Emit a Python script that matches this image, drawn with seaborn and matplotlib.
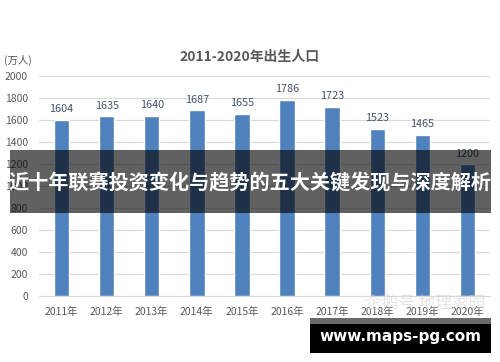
import matplotlib
matplotlib.use("Agg")
import matplotlib.pyplot as plt
import seaborn as sns
import pandas as pd
from matplotlib.patches import Rectangle

years = ["2011年", "2012年", "2013年", "2014年", "2015年", "2016年", "2017年", "2018年", "2019年", "2020年"]
births = [1604, 1635, 1640, 1687, 1655, 1786, 1723, 1523, 1465, 1200]
yticks = [0, 200, 400, 600, 800, 1000, 1200, 1400, 1600, 1800, 2000]
title = "2011-2020年出生人口"
unit = "(万人)"
banner = "近十年联赛投资变化与趋势的五大关键发现与深度解析"
site = "www.maps-pg.com"
faint = "企鹅号 地理家园"

sns.set_theme(style="white")
plt.rcParams['font.family'] = ['Noto Sans CJK SC', 'DejaVu Sans']

df = pd.DataFrame({"year": years, "births": births})

fig = plt.figure(figsize=(5, 3.62), dpi=100)
ax = fig.add_axes([0.078, 0.182, 0.902, 0.608])
sns.barplot(data=df, x="year", y="births", color="#4f81bd", saturation=1, width=0.34, ax=ax, zorder=3)
ax.set_ylim(0, 2000)
ax.set_xlim(-0.5, 9.5)
ax.set_yticks(yticks)
ax.set_yticklabels([str(v) for v in yticks])
ax.grid(axis="y", color="#d9d9d9", linewidth=0.8, zorder=0)
ax.set_axisbelow(True)
for s in ["top", "right", "left"]:
    ax.spines[s].set_visible(False)
ax.spines["bottom"].set_color("#d9d9d9")
ax.spines["bottom"].set_linewidth(0.8)
ax.tick_params(axis="both", length=0, labelsize=7.5, colors="#595959")
ax.tick_params(axis="y", pad=8)
ax.tick_params(axis="x", pad=8)
ax.set_xlabel("")
ax.set_ylabel("")

for i, v in enumerate(births):
    ax.annotate(str(v), (i, v), xytext=(0, 4), textcoords="offset points",
                ha="center", va="bottom", fontsize=7.8, color="#44546a")

fig.text(0.5, 1 - 57 / 362, title, ha="center", va="center", fontsize=10,
         fontweight="bold", color="#595959")
fig.text(0.008, 1 - 60 / 362, unit, ha="left", va="center", fontsize=7.5, color="#595959")

fig.text(0.85, 1 - 303 / 362, faint, ha="center", va="center", fontsize=12,
         color="#cfcfcf", alpha=0.55)

# overlay banner
fig.patches.append(Rectangle((10 / 500, 1 - 213 / 362), 481 / 500, 63 / 362,
                             transform=fig.transFigure, facecolor="black",
                             alpha=0.62, edgecolor="none", zorder=10))
fig.text(0.5, 1 - 183 / 362, banner, ha="center", va="center", fontsize=14.5,
         fontweight="bold", color="white", zorder=11)

# site watermark
fig.patches.append(Rectangle((310 / 500, 1 - 324 / 362), 181 / 500, 6 / 362,
                             transform=fig.transFigure, facecolor="#6a6a6a",
                             edgecolor="none", zorder=10))
fig.patches.append(Rectangle((310 / 500, 1 - 353 / 362), 181 / 500, 29 / 362,
                             transform=fig.transFigure, facecolor="black",
                             edgecolor="none", zorder=10))
fig.text(400 / 500, 1 - 337 / 362, site, ha="center", va="center", fontsize=11,
         fontweight="bold", color="white", family="DejaVu Sans", zorder=11)

fig.savefig("out.png", dpi=100)
